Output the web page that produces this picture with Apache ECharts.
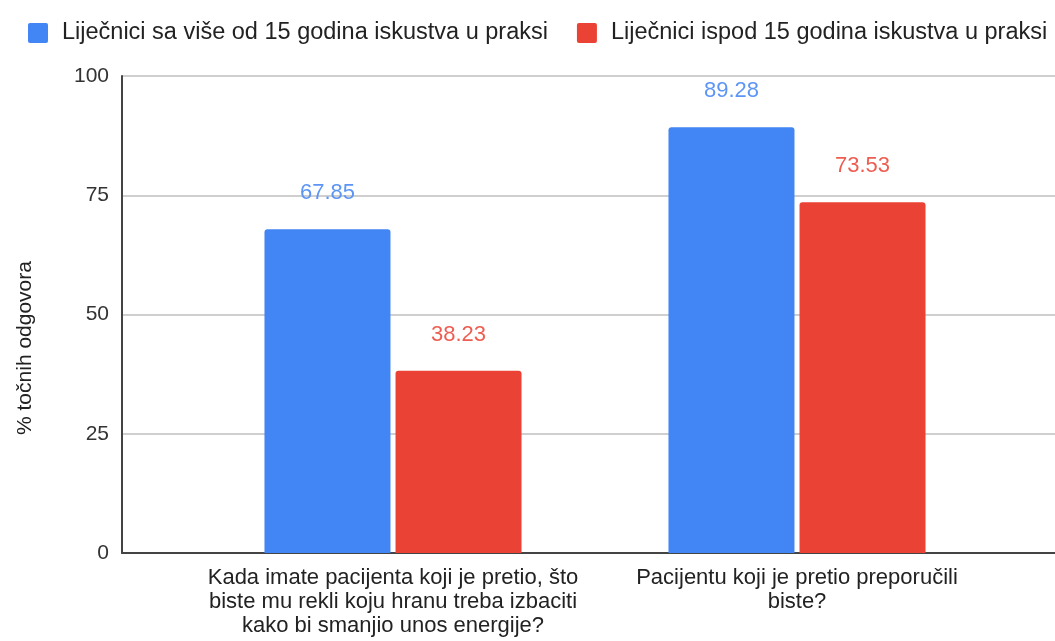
<!DOCTYPE html>
<html>
<head>
<meta charset="utf-8">
<script src="https://cdn.jsdelivr.net/npm/echarts@6/dist/echarts.min.js"></script>
<style>
  html, body { margin: 0; padding: 0; background: #fff; }
  #chart { width: 1055px; height: 641px; }
</style>
</head>
<body>
<div id="chart"></div>
<script>
// podaci
const categories = [
  "Kada imate pacijenta koji je pretio, što\nbiste mu rekli koju hranu treba izbaciti\nkako bi smanjio unos energije?",
  "Pacijentu koji je pretio preporučili\nbiste?"
];
const seriesNames = [
  "Liječnici sa više od 15 godina iskustva u praksi",
  "Liječnici ispod 15 godina iskustva u praksi"
];
const seniorValues = [67.85, 89.28];
const juniorValues = [38.23, 73.53];
const yTicks = [0, 25, 50, 75, 100];

const font = "'Liberation Sans', Arial, sans-serif";
const blue = "#4285f4";
const red = "#ea4335";

const chart = echarts.init(document.getElementById("chart"));

const labelOpt = (color) => ({
  show: true,
  position: "top",
  distance: 25,
  color: color,
  fontSize: 22,
  fontFamily: font,
  formatter: (p) => p.value.toFixed(2),
});

chart.setOption({
  animation: false,
  legend: {
    top: 16,
    left: 23,
    width: 1400,
    orient: "horizontal",
    itemWidth: 20,
    itemHeight: 20,
    itemGap: 29,
    icon: "path://M2,0H18A2,2 0 0 1 20,2V18A2,2 0 0 1 18,20H2A2,2 0 0 1 0,18V2A2,2 0 0 1 2,0Z",
    textStyle: {
      fontSize: 23.5,
      fontFamily: font,
      color: "#222",
      padding: [0, 0, 0, 9],
    },
    data: seriesNames,
  },
  grid: [
    { left: 122, right: 0, top: 76, bottom: 88 },
    { left: 191, right: 56, top: 76, bottom: 88 },
  ],
  xAxis: [
    {
      gridIndex: 0,
      type: "category",
      data: categories,
      axisLine: { lineStyle: { color: "#444", width: 2 } },
      axisTick: { show: false },
      axisLabel: { show: false },
    },
    {
      gridIndex: 1,
      type: "category",
      data: categories,
      axisLine: { show: false },
      axisTick: { show: false },
      axisLabel: {
        interval: 0,
        hideOverlap: false,
        margin: 13,
        fontSize: 22,
        lineHeight: 24,
        fontFamily: font,
        color: "#222",
        align: "center",
      },
    },
  ],
  yAxis: [
    {
      gridIndex: 0,
      type: "value",
      min: yTicks[0],
      max: yTicks[yTicks.length - 1],
      interval: 25,
      axisLine: { show: true, lineStyle: { color: "#444", width: 2 } },
      axisTick: { show: false },
      axisLabel: { margin: 13, fontSize: 21, fontFamily: font, color: "#333" },
      splitLine: { lineStyle: { color: "#cfcfcf", width: 2 } },
    },
    {
      gridIndex: 1,
      type: "value",
      min: yTicks[0],
      max: yTicks[yTicks.length - 1],
      show: false,
      splitLine: { show: false },
    },
  ],
  graphic: [
    {
      type: "text",
      x: 25,
      y: 348,
      rotation: Math.PI / 2,
      style: {
        text: "% točnih odgovora",
        font: "21px " + font,
        fill: "#222",
        align: "center",
        verticalAlign: "middle",
      },
    },
  ],
  series: [
    {
      name: seriesNames[0],
      type: "bar",
      xAxisIndex: 1,
      yAxisIndex: 1,
      data: seniorValues,
      barWidth: 126,
      barGap: "4%",
      itemStyle: { color: blue, borderRadius: [3, 3, 0, 0] },
      label: labelOpt("#5c95f5"),
    },
    {
      name: seriesNames[1],
      type: "bar",
      xAxisIndex: 1,
      yAxisIndex: 1,
      data: juniorValues,
      barWidth: 126,
      itemStyle: { color: red, borderRadius: [3, 3, 0, 0] },
      label: labelOpt("#ed5e52"),
    },
  ],
});
</script>
</body>
</html>
